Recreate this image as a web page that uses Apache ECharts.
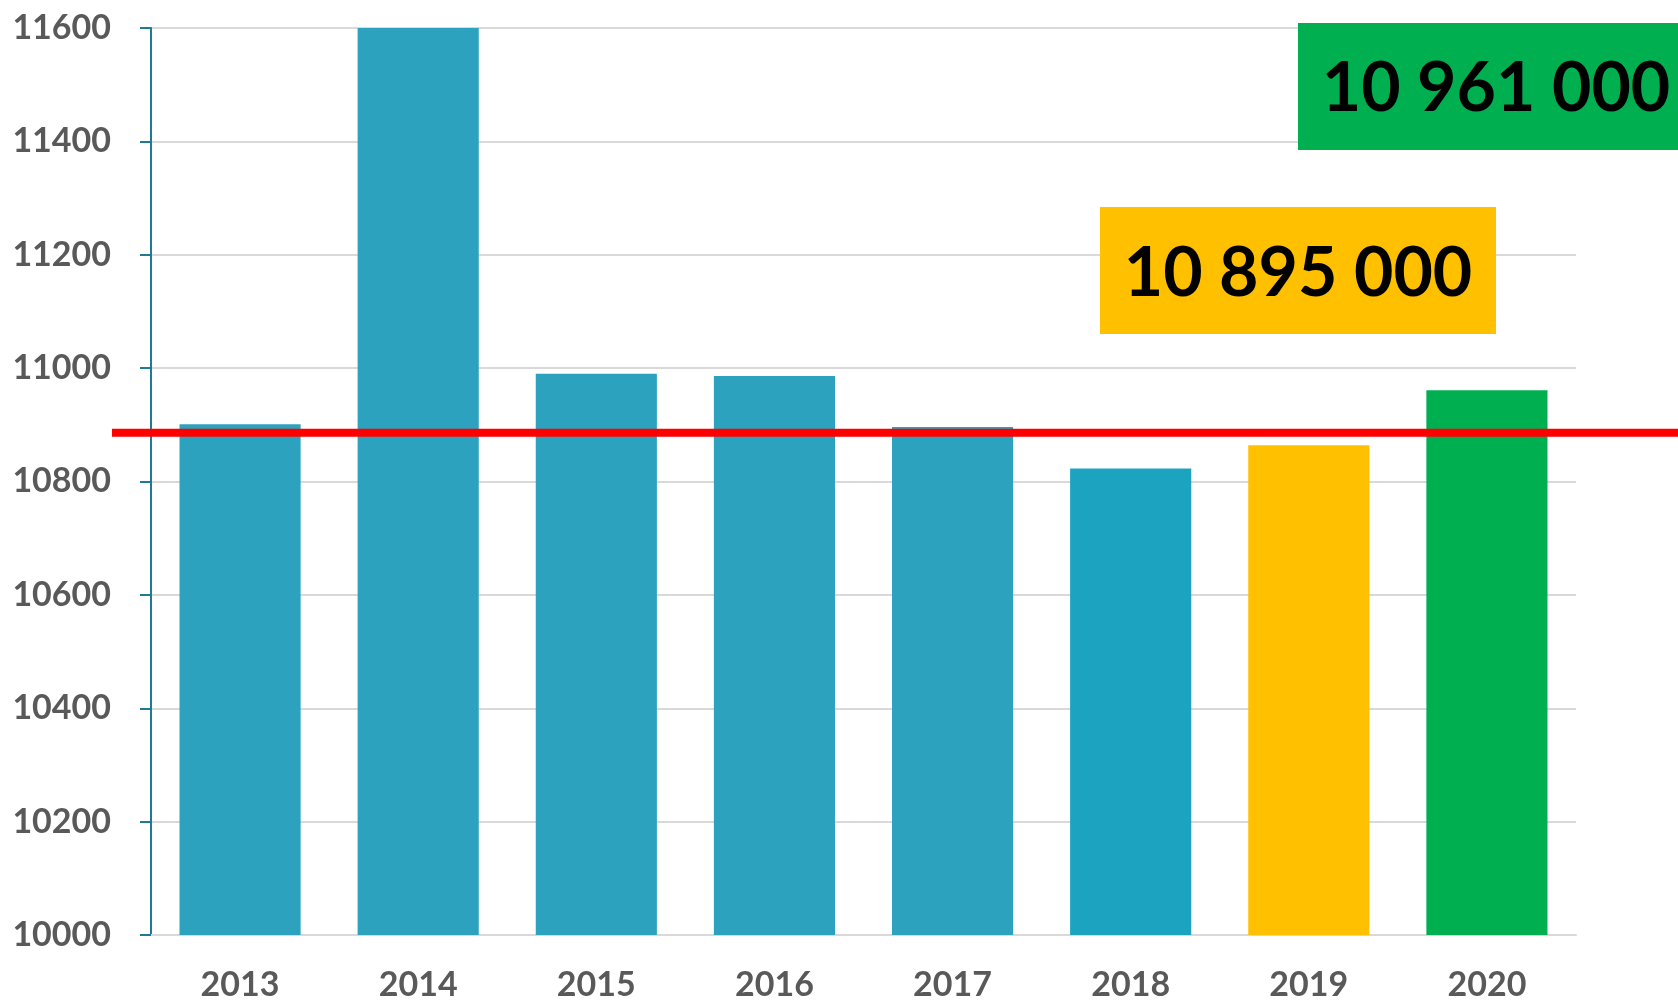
<!DOCTYPE html>
<html>
<head>
<meta charset="utf-8">
<script src="https://cdn.jsdelivr.net/npm/echarts@6/dist/echarts.min.js"></script>
<style>
  html, body { margin: 0; padding: 0; background: #fff; }
  #chart { width: 1678px; height: 1002px; }
</style>
</head>
<body>
<div id="chart"></div>
<script>
// data
const years = ['2013', '2014', '2015', '2016', '2017', '2018', '2019', '2020'];
const values = [10901, 11600, 10990, 10986, 10896, 10823, 10864, 10961];
const barColors = ['#2CA2BF', '#2CA2BF', '#2CA2BF', '#2CA2BF', '#2CA2BF', '#1BA3BF', '#FFC000', '#00B050'];
const yTicks = [10000, 10200, 10400, 10600, 10800, 11000, 11200, 11400, 11600];
const refLine = 10886;
const boxValues = [10895000, 10961000]; // yellow, green

const fmt = v => String(v).replace(/\B(?=(\d{3})+(?!\d))/g, ' ');
const labelFont = 'Lato, "Open Sans", sans-serif';

const chart = echarts.init(document.getElementById('chart'));

let options = {
    backgroundColor: '#ffffff',
    animation: false,
    grid: {
        left: 151,
        right: 102,
        top: 28,
        bottom: 65
    },
    xAxis: {
        type: 'category',
        data: years,
        axisLine: {
            lineStyle: { color: '#d9d9d9', width: 2 }
        },
        axisTick: { show: false },
        axisLabel: {
            color: '#595959',
            fontFamily: labelFont,
            fontWeight: 'bold',
            fontSize: 34,
            margin: 33
        }
    },
    yAxis: {
        type: 'value',
        min: yTicks[0],
        max: yTicks[yTicks.length - 1],
        interval: 200,
        axisLine: {
            show: true,
            lineStyle: { color: '#1F7A94', width: 2 }
        },
        axisTick: {
            show: true,
            length: 11,
            lineStyle: { color: '#1F7A94', width: 2 }
        },
        axisLabel: {
            color: '#595959',
            fontFamily: labelFont,
            fontWeight: 'bold',
            fontSize: 34,
            margin: 40,
            formatter: v => String(v)
        },
        splitLine: {
            lineStyle: { color: '#d9d9d9', width: 2 }
        }
    },
    series: [
        {
            type: 'bar',
            barCategoryGap: '32%',
            clip: true,
            data: values.map((v, i) => ({
                value: v,
                itemStyle: { color: barColors[i] }
            }))
        }
    ]
};

chart.setOption(options);

// red reference line runs past the plot on both sides, so place it from the y scale
const lineY = chart.convertToPixel({ yAxisIndex: 0 }, refLine);

chart.setOption({
    graphic: [
        {
            type: 'line',
            shape: { x1: 112, y1: lineY, x2: 1678, y2: lineY },
            style: { stroke: '#FF0000', lineWidth: 8 },
            z: 100
        },
        {
            type: 'rect',
            shape: { x: 1100, y: 207, width: 396, height: 127 },
            style: { fill: '#FFC000' },
            z: 100
        },
        {
            type: 'text',
            x: 1298,
            y: 274,
            style: {
                text: fmt(boxValues[0]),
                fill: '#000',
                font: 'bold 68px ' + labelFont,
                align: 'center',
                verticalAlign: 'middle'
            },
            z: 101
        },
        {
            type: 'rect',
            shape: { x: 1298, y: 23, width: 380, height: 127 },
            style: { fill: '#00B050' },
            z: 100
        },
        {
            type: 'text',
            x: 1496,
            y: 89,
            style: {
                text: fmt(boxValues[1]),
                fill: '#000',
                font: 'bold 68px ' + labelFont,
                align: 'center',
                verticalAlign: 'middle'
            },
            z: 101
        }
    ]
});
</script>
</body>
</html>
